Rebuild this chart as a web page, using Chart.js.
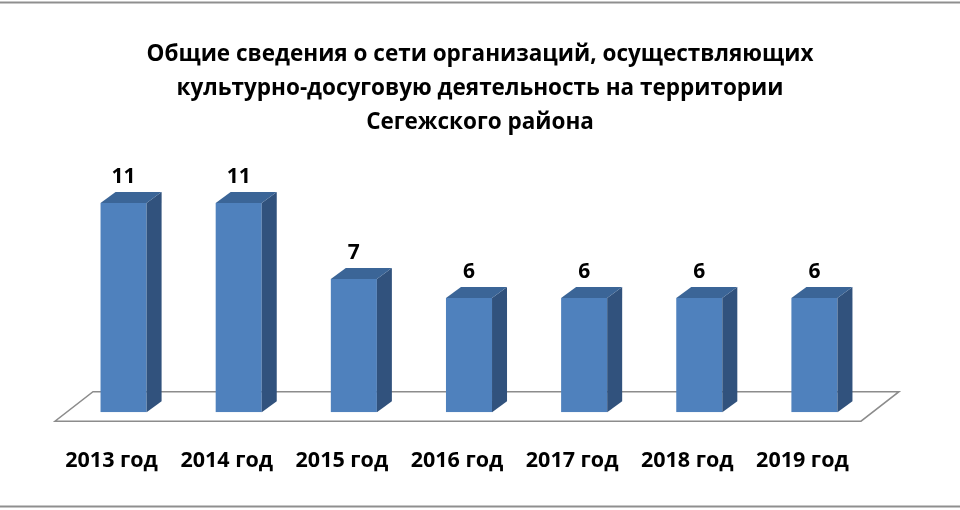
<!DOCTYPE html>
<html>
<head>
<meta charset="utf-8">
<script src="https://cdn.jsdelivr.net/npm/chart.js@4"></script>
<style>
  html, body { margin: 0; padding: 0; background: #fff; }
  #wrap { width: 960px; height: 510px; }
</style>
</head>
<body>
<div id="wrap"><canvas id="orgChart" width="960" height="510"></canvas></div>
<script>
const years = ["2013 год", "2014 год", "2015 год", "2016 год", "2017 год", "2018 год", "2019 год"];
const orgCounts = [11, 11, 7, 6, 6, 6, 6];
const titleLines = [
  "Общие сведения о сети организаций, осуществляющих",
  "культурно-досуговую деятельность на территории",
  "Сегежского района"
];

const FONT = "'Open Sans', Lato, sans-serif";

// fake 3D look: floor, side/top faces, value labels, frame lines
const bars3d = {
  id: "bars3d",
  beforeDraw(chart) {
    const c = chart.ctx;
    c.save();
    c.fillStyle = "#fff";
    c.fillRect(0, 0, chart.width, chart.height);
    c.strokeStyle = "#8f8f8f";
    c.lineWidth = 2;
    c.beginPath();
    c.moveTo(0, 2.5); c.lineTo(chart.width, 2.5);
    c.moveTo(0, 506.5); c.lineTo(chart.width, 506.5);
    c.stroke();
    c.restore();
  },
  beforeDatasetsDraw(chart) {
    const c = chart.ctx;
    const area = chart.chartArea;
    const base = chart.scales.y.getPixelForValue(0);
    const fx0 = area.left - 11, fx1 = area.right - 11, fy = base + 9;
    const dx = 38, dy = -29.5;
    c.save();
    c.beginPath();
    c.moveTo(fx0, fy);
    c.lineTo(fx1, fy);
    c.lineTo(fx1 + dx, fy + dy);
    c.lineTo(fx0 + dx, fy + dy);
    c.closePath();
    c.fillStyle = "#fff";
    c.fill();
    c.strokeStyle = "#8c8c8c";
    c.lineWidth = 1.5;
    c.stroke();
    c.restore();
  },
  afterDatasetsDraw(chart) {
    const c = chart.ctx;
    const dx = 15, dy = -11;
    c.save();
    chart.getDatasetMeta(0).data.forEach((bar, i) => {
      const l = bar.x - bar.width / 2, r = bar.x + bar.width / 2;
      const t = bar.y, b = bar.base;
      // side
      c.beginPath();
      c.moveTo(r, t); c.lineTo(r + dx, t + dy); c.lineTo(r + dx, b + dy); c.lineTo(r, b);
      c.closePath();
      c.fillStyle = "#31527d";
      c.fill();
      // top
      c.beginPath();
      c.moveTo(l, t); c.lineTo(l + dx, t + dy); c.lineTo(r + dx, t + dy); c.lineTo(r, t);
      c.closePath();
      c.fillStyle = "#3b6597";
      c.fill();
      // value
      c.fillStyle = "#000";
      c.font = "bold 21px " + FONT;
      c.textAlign = "center";
      c.textBaseline = "middle";
      c.fillText(String(orgCounts[i]), bar.x, t - 26);
    });
    c.restore();
  }
};

new Chart(document.getElementById("orgChart").getContext("2d"), {
  type: "bar",
  data: {
    labels: years,
    datasets: [{
      data: orgCounts,
      backgroundColor: "#4f81bd",
      borderWidth: 0,
      categoryPercentage: 1,
      barPercentage: 0.4
    }]
  },
  options: {
    responsive: false,
    animation: false,
    devicePixelRatio: 1,
    layout: { padding: { left: 66, right: 66, top: 0, bottom: 0 } },
    scales: {
      x: {
        grid: { display: false, drawTicks: false },
        border: { display: false },
        ticks: {
          color: "#000",
          font: { family: FONT, size: 21.5, weight: "bold", lineHeight: 1.2 },
          padding: 36,
          labelOffset: -12,
          maxRotation: 0,
          autoSkip: false
        }
      },
      y: { display: false, min: 0, max: 12 },
      // empty right axis, only keeps room for the 3D depth
      yRight: {
        position: "right",
        display: true,
        grid: { display: false, drawTicks: false },
        border: { display: false },
        ticks: { display: false },
        afterFit(scale) { scale.width = 22; }
      }
    },
    plugins: {
      legend: { display: false },
      tooltip: { enabled: false },
      title: {
        display: true,
        text: titleLines,
        color: "#000",
        font: { family: FONT, size: 22.5, weight: "bold", lineHeight: 1.51 },
        padding: { top: 38, bottom: 44 }
      }
    }
  },
  plugins: [bars3d]
});
</script>
</body>
</html>
